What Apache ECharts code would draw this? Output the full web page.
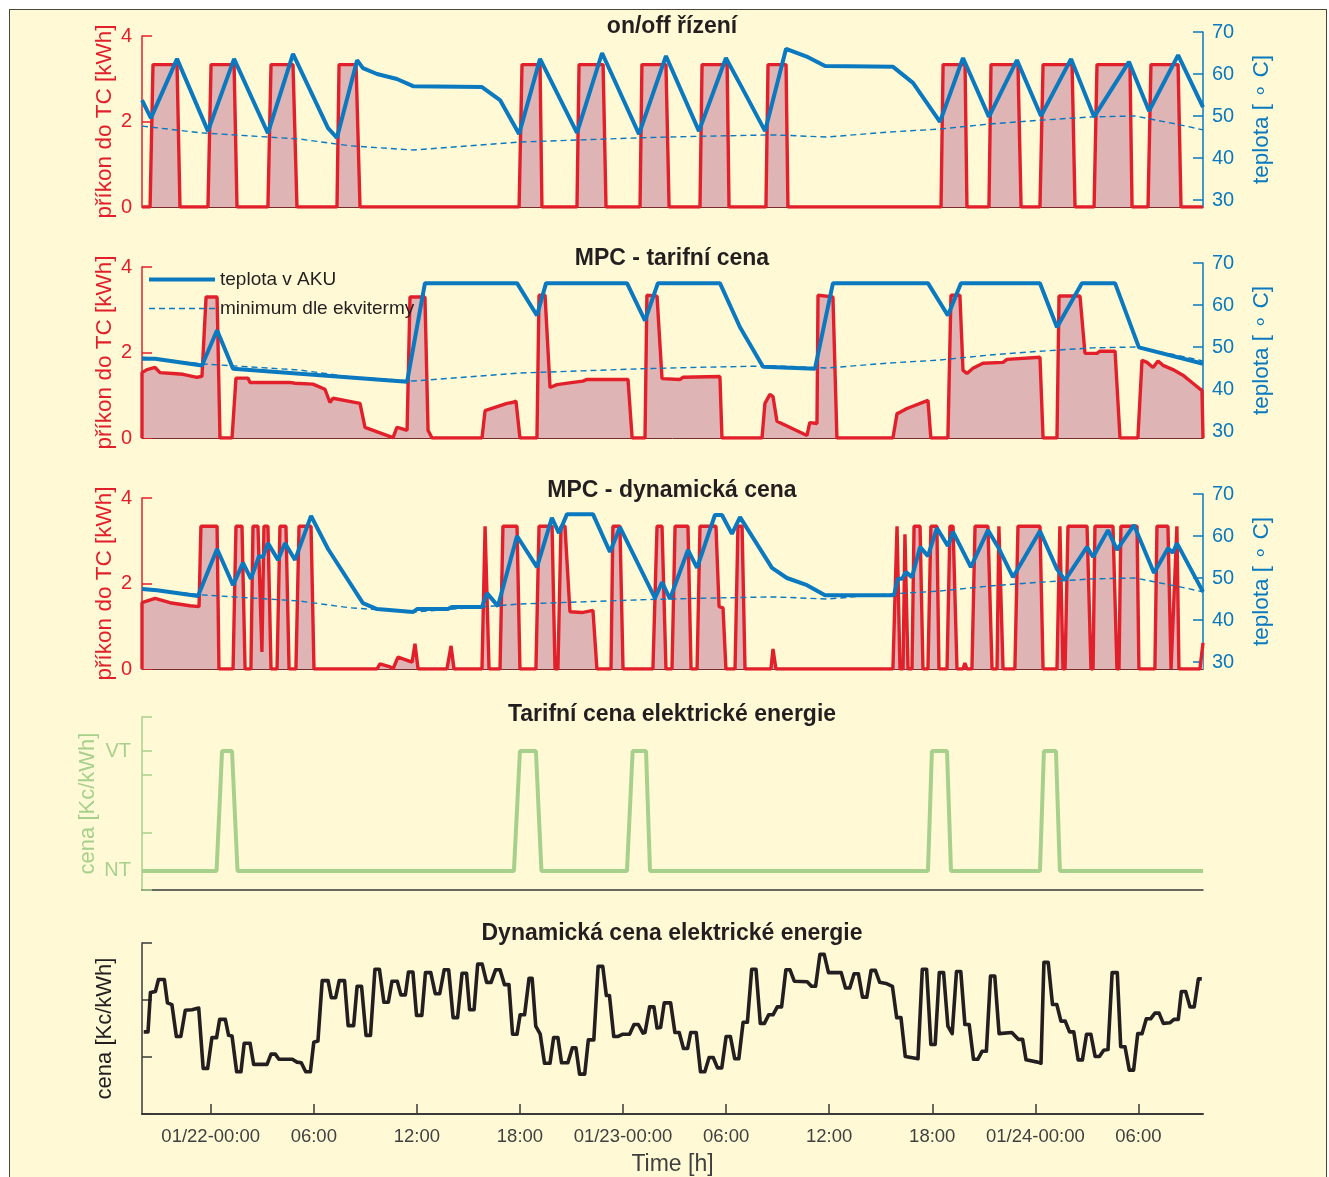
<!DOCTYPE html>
<html>
<head>
<meta charset="utf-8">
<script src="https://cdn.jsdelivr.net/npm/echarts@6/dist/echarts.min.js"></script>
<style>
  html, body { margin: 0; padding: 0; background: #fff; }
  #frame { position: absolute; left: 9px; top: 9px; width: 1318px; height: 1200px;
           border: 1px solid #4a4638; background: #FFFAD5; box-sizing: border-box; }
  #chart { position: absolute; left: 0; top: 0; width: 1329px; height: 1177px; }
</style>
</head>
<body>
<div id="frame"></div>
<div id="chart"></div>
<script>
// time axis: hours since 01/21 20:00
const tickHours = [4, 10, 16, 22, 28, 34, 40, 46, 52, 58];
const tickLabels = ['01/22-00:00', '06:00', '12:00', '18:00', '01/23-00:00', '06:00', '12:00', '18:00', '01/24-00:00', '06:00'];

// on/off control
const onoffPower = [[0,0],[0.47,0],[0.64,3.33],[2.04,3.33],[2.21,0],[3.84,0],[4.02,3.33],[5.36,3.33],[5.53,0],
  [7.33,0],[7.51,3.33],[8.79,3.33],[9.02,0],[11.35,0],[11.47,3.33],[12.46,3.33],[12.69,0],
  [21.95,0],[22.12,3.33],[23.17,3.33],[23.28,0],[25.32,0],[25.44,3.33],[26.84,3.33],[27.01,0],
  [28.99,0],[29.1,3.33],[30.5,3.33],[30.68,0],[32.48,0],[32.6,3.33],[34.06,3.33],[34.17,0],
  [36.32,0],[36.44,3.33],[37.49,3.33],[37.6,0],[46.51,0],[46.63,3.33],[47.91,3.33],[48.02,0],
  [49.3,0],[49.42,3.33],[50.99,3.33],[51.17,0],[52.27,0],[52.45,3.33],[54.14,3.33],[54.31,0],
  [55.42,0],[55.59,3.33],[57.51,3.33],[57.63,0],[58.56,0],[58.73,3.33],[60.31,3.33],[60.48,0],[61.76,0]];
const onoffTemp = [[0,53.8],[0.52,49.5],[2.04,63.6],[3.84,46.4],[5.36,63.6],[7.33,45.9],[8.79,64.8],[10.83,47.1],
  [11.35,44.8],[12.52,63.3],[12.86,61.4],[13.68,60],[14.84,58.8],[15.78,57.1],[19.79,56.9],[20.84,53.8],
  [21.95,45.7],[23.17,63.6],[25.32,46],[26.78,65],[28.93,45.7],[30.5,64.3],[32.42,46.4],[33.99,63.8],
  [34.93,56.7],[36.27,46.4],[37.49,66],[38.77,64],[39.76,61.9],[43.72,61.7],[44.88,57.9],[46.45,48.6],
  [47.79,63.8],[49.3,49.8],[50.93,63.3],[52.33,50],[54.08,63.6],[55.42,49.8],[57.45,62.9],[58.62,51.2],
  [60.31,64.5],[61.76,52.1]];

// minimum from the heating curve (same in all three panels)
const minTemp = [[0,47.6],[3.38,46],[9.2,44.5],[12.11,42.9],[15.78,41.9],[22.0,43.8],[28.99,44.8],[32.89,45.2],
  [36.73,45.5],[39.88,45],[43.54,46.2],[46.45,46.9],[49.36,48.1],[52.27,49],[55.36,49.8],[57.8,50],
  [60.42,47.9],[61.76,46.7]];

// MPC - tariff price
const tarifPower = [[0,0],[0,1.53],[0.29,1.6],[0.76,1.65],[1.05,1.53],[1.8,1.51],[2.39,1.49],[3.2,1.42],[3.49,1.44],
  [3.73,3.3],[4.37,3.3],[4.54,0],[5.24,0],[5.47,1.4],[6.17,1.4],[6.29,1.3],[8.61,1.3],[8.91,1.28],[9.95,1.26],
  [10.65,1.14],[10.94,0.83],[11.12,0.93],[12.69,0.81],[12.98,0.25],[14.61,0.01],[14.84,0.25],[15.02,0.23],
  [15.43,0.18],[15.6,3.3],[16.47,3.3],[16.65,0.18],[16.88,0],[19.79,0],[19.97,0.64],[21.25,0.81],[21.54,0.83],
  [21.77,0.86],[22.0,0],[22.99,0],[23.11,3.34],[23.46,3.34],[23.75,1.18],[24.16,1.25],[25.09,1.3],[25.67,1.33],
  [25.9,1.37],[28.29,1.37],[28.53,0],[29.28,0],[29.39,3.34],[29.98,3.32],[30.27,1.39],[31.32,1.37],[31.49,1.42],
  [33.64,1.44],[33.76,0],[36.09,0],[36.26,0.81],[36.55,1.02],[36.73,0.97],[36.96,0.39],[38.71,0.06],[38.87,0.36],
  [39.29,0.34],[39.35,3.34],[40.22,3.3],[40.45,0],[43.71,0],[43.95,0.57],[44.12,0.6],[44.53,0.69],[45.75,0.88],
  [45.92,0],[46.91,0],[47.09,3.34],[47.61,3.34],[47.79,1.58],[48.02,1.51],[48.37,1.63],[48.95,1.75],[50.12,1.77],
  [50.35,1.84],[52.27,1.89],[52.45,0],[53.26,0],[53.38,3.32],[54.6,3.32],[54.89,1.98],[55.59,1.98],[55.76,2.03],
  [56.64,2.03],[56.93,0],[57.97,0],[58.21,1.82],[58.5,1.77],[58.85,1.65],[59.14,1.8],[59.43,1.7],[60.01,1.6],
  [60.59,1.47],[61.17,1.28],[61.7,1.11],[61.76,1.1],[61.76,0]];
const tarifTemp = [[0,47.2],[0.76,47.2],[3.49,45.6],[4.37,54],[5.3,44.8],[15.43,41.7],[16.47,65.2],[21.83,65.2],
  [22.99,57.5],[23.52,65.2],[28.23,65.2],[29.28,56.3],[30.03,65.2],[33.64,65.2],[34.81,54.7],[36.15,45.3],
  [39.17,44.8],[40.22,65.2],[45.75,65.2],[46.91,57.5],[47.67,65.2],[52.27,65.2],[53.26,54.7],[54.71,65.2],
  [56.64,65.2],[58.03,49.9],[61.76,46]];

// MPC - dynamic price
const dynPower = [[0,0],[0,1.55],[0.76,1.65],[1.63,1.55],[2.79,1.48],[3.32,1.46],[3.43,3.34],[4.37,3.34],[4.48,0],
  [5.3,0],[5.47,3.34],[5.82,3.34],[6.0,0],[6.34,0],[6.46,3.34],[6.75,3.34],[6.98,0.4],[7.1,3.34],[7.33,3.34],
  [7.51,0],[7.86,0],[8.03,3.34],[8.38,3.34],[8.56,0],[8.96,0],[9.14,3.34],[9.84,3.34],[10.01,0],[13.68,0],
  [13.85,0.12],[14.44,0.05],[14.61,0],[14.9,0.28],[15.72,0.16],[15.89,0.59],[16.07,0],[17.75,0],[17.99,0.54],
  [18.16,0],[19.79,0],[19.97,3.34],[20.2,0],[20.84,0],[21.01,3.34],[21.83,3.34],[22.0,0],[22.93,0],[23.11,3.34],
  [23.87,3.34],[24.04,0],[24.21,0],[24.39,3.34],[24.62,3.34],[24.91,1.34],[25.61,1.32],[26.25,1.37],[26.48,0],
  [27.3,0],[27.41,3.34],[27.82,3.34],[28.0,0],[29.74,0],[29.98,3.34],[30.27,3.34],[30.5,0],[30.85,0],[31.03,3.34],
  [31.78,3.34],[31.96,0],[32.31,0],[32.48,3.34],[33.41,3.34],[33.59,1.46],[33.82,1.43],[33.99,0],[34.52,0],
  [34.69,3.34],[34.93,3.34],[35.1,0],[36.61,0],[36.73,0.47],[36.9,0],[43.71,0],[43.95,3.34],[44.12,0],[44.3,0],
  [44.41,3.15],[44.59,0],[44.82,0],[44.94,3.34],[45.29,3.34],[45.46,0],[45.75,0],[45.92,3.34],[46.27,3.34],
  [46.39,0],[46.86,0],[47.03,3.34],[47.21,3.34],[47.44,0],[47.79,0],[47.9,0.14],[48.02,0],[48.31,0],[48.49,3.34],
  [49.24,3.34],[49.48,0],[49.77,0],[49.88,3.34],[50.12,0],[50.81,0],[50.99,3.34],[52.27,3.34],[52.45,0],[53.26,0],
  [53.43,3.34],[53.61,0],[53.73,0],[53.9,3.34],[55.01,3.34],[55.24,0],[55.36,0],[55.47,3.34],[56.52,3.34],
  [56.75,0],[56.87,0],[56.98,3.34],[57.92,3.34],[58.03,0],[58.96,0],[59.08,3.34],[59.72,3.34],[59.9,0],[60.01,0],
  [60.24,3.34],[60.36,0],[61.58,0],[61.76,0.61]];
const dynTemp = [[0,47.4],[0.87,47.1],[3.26,45.7],[4.37,56.9],[5.3,48.3],[5.88,53.6],[6.34,49.8],[6.81,55.2],
  [7.04,55],[7.33,58.3],[7.92,54.3],[8.32,58.3],[8.91,54.3],[9.84,64.8],[10.83,56.9],[12.86,44],[13.68,42.6],
  [15.78,41.9],[16.01,42.6],[17.81,42.6],[18.04,43.1],[19.79,43.1],[20.08,46.4],[20.72,43.3],[21.83,60],
  [22.99,52.6],[23.86,64.3],[24.27,60.7],[24.74,65.2],[26.25,65.2],[27.24,56.2],[27.82,62.1],[29.86,45.2],
  [30.27,49],[30.73,45],[31.78,56.7],[32.31,52.4],[33.35,65],[33.76,65],[34.34,60.5],[34.81,64.5],[36.67,52.4],
  [37.54,50],[38.71,48.3],[39.76,45.9],[43.77,45.9],[44.0,49.8],[44.24,49.8],[44.47,51.4],[44.82,50.2],
  [45.29,57.4],[45.75,55.2],[46.27,61.9],[46.91,57.6],[47.21,61],[48.25,52.6],[49.24,61.4],[49.83,57.4],
  [50.7,50.2],[52.27,61.2],[53.26,52.1],[53.73,49.5],[55.01,57.4],[55.36,55],[56.23,61.4],[56.75,56.7],
  [57.74,62.6],[58.91,51.2],[59.72,57.1],[60.01,56],[60.24,58.3],[61.76,46.7]];

// tariff (two levels)
const NT = 0.33, VT = 2.41;
const tariffPrice = [[0,NT],[4.34,NT],[4.66,VT],[5.24,VT],[5.56,NT],[21.65,NT],[22.0,VT],[22.93,VT],[23.25,NT],
  [28.23,NT],[28.56,VT],[29.34,VT],[29.57,NT],[45.75,NT],[45.98,VT],[46.86,VT],[47.09,NT],
  [52.27,NT],[52.5,VT],[53.2,VT],[53.43,NT],[61.76,NT]];

// dynamic price
const dynPrice = [[0.1,1.44],[0.35,1.44],[0.49,2.13],[0.78,2.15],[0.96,2.36],[1.3,2.36],[1.48,1.95],[1.74,1.92],
  [2.0,1.36],[2.26,1.36],[2.52,1.82],[2.91,1.83],[3.3,1.86],[3.56,0.8],[3.82,0.8],[4.07,1.34],[4.34,1.34],
  [4.52,1.66],[4.85,1.66],[5.04,1.38],[5.24,1.37],[5.51,0.74],[5.76,0.74],[5.95,1.24],[6.29,1.24],[6.5,0.87],
  [7.28,0.87],[7.51,1.05],[7.76,1.05],[7.97,0.96],[8.75,0.96],[9.02,0.91],[9.27,0.9],[9.53,0.74],[9.8,0.74],
  [10.0,1.26],[10.24,1.28],[10.49,2.34],[10.83,2.34],[11.02,2.04],[11.27,2.04],[11.48,2.34],[11.79,2.34],
  [12.0,1.55],[12.32,1.55],[12.52,2.24],[12.78,2.24],[13.04,1.38],[13.3,1.38],[13.56,2.54],[13.82,2.54],
  [14.08,1.96],[14.34,1.96],[14.55,2.33],[14.86,2.33],[15.07,2.09],[15.33,2.09],[15.51,2.49],[15.77,2.49],
  [15.98,1.73],[16.29,1.73],[16.5,2.48],[16.81,2.48],[17.07,2.11],[17.33,2.11],[17.59,2.53],[17.85,2.53],
  [18.11,1.69],[18.37,1.69],[18.63,2.47],[18.89,2.47],[19.07,1.83],[19.33,1.83],[19.54,2.63],[19.8,2.63],
  [20.06,2.31],[20.32,2.31],[20.58,2.53],[20.84,2.53],[21.1,2.27],[21.36,2.27],[21.57,1.4],[21.83,1.4],
  [22.01,1.74],[22.27,1.74],[22.53,2.38],[22.71,2.38],[22.92,1.54],[23.18,1.4],[23.43,0.89],[23.75,0.89],
  [23.96,1.34],[24.21,1.34],[24.42,0.9],[24.79,0.9],[25.05,1.16],[25.26,1.16],[25.47,0.7],[25.77,0.7],
  [25.98,1.3],[26.3,1.3],[26.55,2.59],[26.82,2.59],[27.03,2.08],[27.21,2.08],[27.46,1.36],[27.72,1.36],
  [27.99,1.4],[28.38,1.4],[28.64,1.57],[28.89,1.57],[29.16,1.42],[29.28,1.43],[29.55,1.88],[29.8,1.88],
  [29.98,1.51],[30.19,1.52],[30.4,1.95],[30.77,1.95],[31.02,1.43],[31.27,1.43],[31.52,1.15],[31.76,1.15],
  [31.94,1.43],[32.26,1.43],[32.51,0.74],[32.76,0.74],[33.01,0.99],[33.25,0.99],[33.5,0.81],[33.75,0.81],
  [34.0,1.36],[34.25,1.36],[34.5,0.97],[34.74,0.97],[34.99,1.61],[35.24,1.61],[35.49,2.54],[35.74,2.54],
  [35.99,1.59],[36.23,1.59],[36.48,1.74],[36.73,1.74],[36.98,1.88],[37.23,1.88],[37.48,2.53],[37.72,2.53],
  [37.97,2.33],[38.72,2.32],[38.97,2.24],[39.21,2.24],[39.46,2.8],[39.71,2.8],[39.96,2.48],[40.7,2.48],
  [40.95,2.21],[41.2,2.21],[41.45,2.46],[41.7,2.46],[41.94,2.05],[42.19,2.05],[42.44,2.52],[42.69,2.52],
  [42.94,2.31],[43.31,2.29],[43.68,2.24],[43.93,1.69],[44.18,1.69],[44.43,1.01],[45.17,0.97],[45.42,2.54],
  [45.67,2.54],[45.92,1.22],[46.17,1.22],[46.41,2.48],[46.66,2.48],[46.91,1.54],[47.16,1.41],[47.41,2.5],
  [47.66,2.5],[47.9,1.57],[48.15,1.57],[48.4,0.96],[48.65,0.96],[48.9,1.1],[49.15,1.1],[49.39,2.42],
  [49.64,2.42],[49.89,1.41],[50.63,1.43],[51.01,1.31],[51.26,1.31],[51.46,0.95],[52.13,0.91],[52.33,0.89],
  [52.5,2.66],[52.75,2.66],[53.0,1.92],[53.25,1.92],[53.49,1.63],[53.74,1.63],[53.99,1.44],[54.24,1.44],
  [54.49,0.95],[54.74,0.95],[54.98,1.4],[55.23,1.4],[55.48,1.01],[55.73,1.01],[55.98,1.12],[56.23,1.13],
  [56.47,2.48],[56.77,2.48],[56.97,1.18],[57.22,1.18],[57.47,0.77],[57.72,0.77],[57.96,1.41],[58.21,1.41],
  [58.46,1.67],[58.71,1.67],[58.96,1.77],[59.2,1.77],[59.45,1.59],[59.83,1.6],[60.07,1.66],[60.32,1.66],
  [60.5,2.15],[60.75,2.15],[61.0,1.88],[61.25,1.88],[61.49,2.37],[61.69,2.37]];

const FONT = '"Liberation Sans", Arial, Helvetica, sans-serif';
const RED = '#E2202B';
const FILL = '#DFB4B5';
const BLUE = '#0A79BF';
const GREEN = '#A8D08D';
const BLACK = '#231F20';
const GREY = '#404040';
const X_MAX = 61.76;

const chart = echarts.init(document.getElementById('chart'), null, { renderer: 'canvas' });

const gridBoxes = [
  [36, 171], [32, 175],    // on/off: power, temperature
  [267, 171], [263, 175],  // MPC tariff
  [498, 171], [494, 175],  // MPC dynamic
  [717, 173],              // tariff price
  [943, 172]               // dynamic price
];
const grids = gridBoxes.map(([top, height]) => ({ left: 142, right: 126, top, height }));

function xAxisFor(gridIndex, extra) {
  return Object.assign({
    type: 'value', gridIndex, min: 0, max: X_MAX,
    axisLine: { show: false }, axisTick: { show: false },
    axisLabel: { show: false }, splitLine: { show: false }
  }, extra || {});
}

function powerAxis(gridIndex) {
  return {
    type: 'value', gridIndex, position: 'left', min: 0, max: 4,
    name: 'příkon do TC [kWh]', nameLocation: 'middle', nameGap: 26, nameMoveOverlap: false,
    nameTextStyle: { color: RED, fontSize: 22.5, fontFamily: FONT },
    axisLine: { show: true, onZero: false, lineStyle: { color: RED, width: 1.5 } },
    axisTick: { show: true, inside: true, length: 10, customValues: [0, 2, 4], lineStyle: { color: RED, width: 1.5 } },
    axisLabel: { color: RED, fontSize: 20, margin: 10, fontFamily: FONT, customValues: [0, 2, 4] },
    splitLine: { show: false }
  };
}

function tempAxis(gridIndex) {
  const ticks = [30, 40, 50, 60, 70];
  return {
    type: 'value', gridIndex, position: 'right', min: 28.33, max: 70,
    name: 'teplota [ ∘ C]', nameLocation: 'middle', nameGap: 47, nameMoveOverlap: false,
    nameTextStyle: { color: BLUE, fontSize: 22.5, fontFamily: FONT },
    axisLine: { show: true, onZero: false, lineStyle: { color: BLUE, width: 1.5 } },
    axisTick: { show: true, inside: true, length: 10, customValues: ticks, lineStyle: { color: BLUE, width: 1.5 } },
    axisLabel: { color: BLUE, fontSize: 20, margin: 9, fontFamily: FONT, customValues: ticks },
    splitLine: { show: false }
  };
}

const baseLine = { show: true, onZero: false, lineStyle: { color: '#7a2b2e', width: 1 } };
const xAxes = [
  xAxisFor(0, { axisLine: baseLine }),
  xAxisFor(1),
  xAxisFor(2, { axisLine: baseLine }),
  xAxisFor(3),
  xAxisFor(4, { axisLine: baseLine }),
  xAxisFor(5),
  xAxisFor(6, { axisLine: { show: true, onZero: false, lineStyle: { color: '#3a3a3a', width: 1.5 } } }),
  xAxisFor(7, {
    name: 'Time [h]', nameLocation: 'middle', nameGap: 39, nameMoveOverlap: false,
    nameTextStyle: { color: GREY, fontSize: 23, fontFamily: FONT },
    axisLine: { show: true, onZero: false, lineStyle: { color: '#3a3a3a', width: 2 } },
    axisTick: { show: true, inside: true, length: 10, customValues: tickHours, lineStyle: { color: '#3a3a3a', width: 1.5 } },
    axisLabel: {
      show: true, customValues: tickHours, color: GREY, fontSize: 18.5, margin: 13, fontFamily: FONT,
      formatter: v => tickLabels[tickHours.findIndex(h => Math.abs(h - v) < 0.01)]
    }
  })
];

const yAxes = [
  powerAxis(0), tempAxis(1),
  powerAxis(2), tempAxis(3),
  powerAxis(4), tempAxis(5),
  {
    type: 'value', gridIndex: 6, position: 'left', min: 0, max: 3,
    name: 'cena [Kc/kWh]', nameLocation: 'middle', nameGap: 43, nameMoveOverlap: false,
    nameTextStyle: { color: GREEN, fontSize: 22, fontFamily: FONT },
    axisLine: { show: true, onZero: false, lineStyle: { color: GREEN, width: 1.5 } },
    axisTick: { show: true, inside: true, length: 10, customValues: [0, NT, 1, 2, VT, 3], lineStyle: { color: GREEN, width: 1.5 } },
    axisLabel: {
      color: GREEN, fontSize: 20, margin: 11, fontFamily: FONT, customValues: [NT, VT],
      formatter: v => (Math.abs(v - NT) < 0.01 ? 'NT' : 'VT')
    },
    splitLine: { show: false }
  },
  {
    type: 'value', gridIndex: 7, position: 'left', min: 0, max: 3,
    name: 'cena [Kc/kWh]', nameLocation: 'middle', nameGap: 26, nameMoveOverlap: false,
    nameTextStyle: { color: BLACK, fontSize: 22, fontFamily: FONT },
    axisLine: { show: true, onZero: false, lineStyle: { color: '#3a3a3a', width: 1.5 } },
    axisTick: { show: true, inside: true, length: 10, customValues: [0, 1, 2, 3], lineStyle: { color: '#3a3a3a', width: 1.5 } },
    axisLabel: { show: false },
    splitLine: { show: false }
  }
];

function powerSeries(idx, data) {
  return {
    type: 'line', xAxisIndex: idx, yAxisIndex: idx, data, symbol: 'none', z: 2,
    lineStyle: { color: RED, width: 3.4 },
    areaStyle: { color: FILL, opacity: 1, origin: 'start' },
    silent: true
  };
}
function tempSeries(idx, data) {
  return {
    name: 'teplota v AKU', type: 'line', xAxisIndex: idx, yAxisIndex: idx, data, symbol: 'none', z: 4,
    itemStyle: { color: BLUE },
    lineStyle: { color: BLUE, width: 4 }, silent: true
  };
}
function minSeries(idx) {
  return {
    name: 'minimum dle ekvitermy', type: 'line', xAxisIndex: idx, yAxisIndex: idx, data: minTemp, symbol: 'none', z: 3,
    itemStyle: { color: BLUE },
    lineStyle: { color: BLUE, width: 1.4, type: [6, 4] }, silent: true
  };
}

const series = [
  powerSeries(0, onoffPower), minSeries(1), tempSeries(1, onoffTemp),
  powerSeries(2, tarifPower), minSeries(3), tempSeries(3, tarifTemp),
  powerSeries(4, dynPower), minSeries(5), tempSeries(5, dynTemp),
  { type: 'line', xAxisIndex: 6, yAxisIndex: 6, data: tariffPrice, symbol: 'none',
    lineStyle: { color: GREEN, width: 4 }, silent: true },
  { type: 'line', xAxisIndex: 7, yAxisIndex: 7, data: dynPrice, symbol: 'none',
    lineStyle: { color: BLACK, width: 3.6, join: 'round' }, silent: true }
];

const titleText = ['on/off řízení', 'MPC - tarifní cena', 'MPC - dynamická cena',
  'Tarifní cena elektrické energie', 'Dynamická cena elektrické energie'];
const titleTops = [15, 247, 479, 703, 922];

const option = {
  backgroundColor: 'transparent',
  animation: false,
  textStyle: { fontFamily: FONT },
  title: titleText.map((t, i) => ({
    text: t, left: 672, top: titleTops[i], textAlign: 'center', padding: 0,
    textStyle: { fontSize: 23, fontWeight: 'bold', color: BLACK, fontFamily: FONT }
  })),
  legend: {
    data: [
      { name: 'teplota v AKU', lineStyle: { color: BLUE, width: 4 } },
      { name: 'minimum dle ekvitermy', lineStyle: { color: BLUE, width: 1.4, type: [6, 4] } }
    ],
    left: 147, top: 270, orient: 'vertical', itemWidth: 66, itemHeight: 14, itemGap: 10,
    selectedMode: false, padding: 0,
    itemStyle: { opacity: 0 },
    textStyle: { fontSize: 19, color: BLACK, fontFamily: FONT }
  },
  grid: grids,
  xAxis: xAxes,
  yAxis: yAxes,
  series
};

chart.setOption(option);
</script>
</body>
</html>
